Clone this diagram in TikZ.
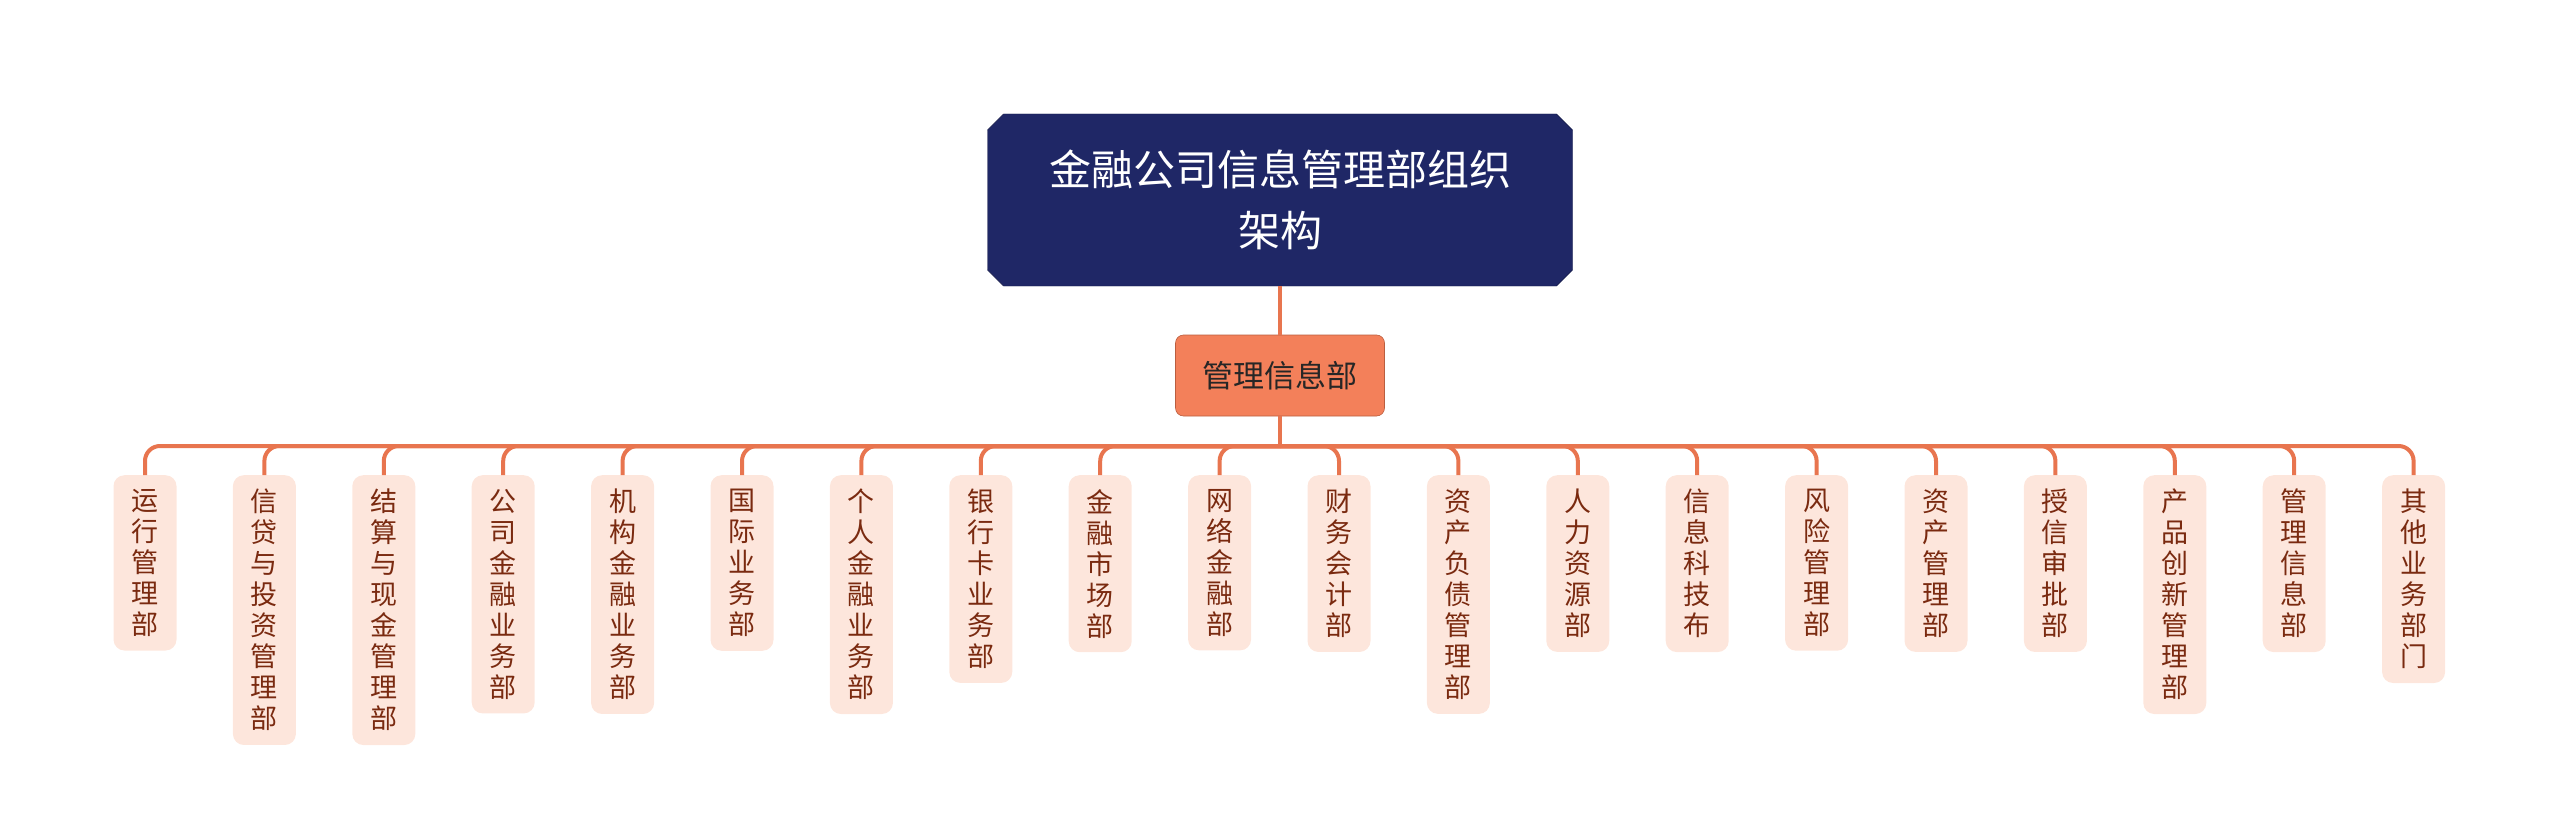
\documentclass[tikz,border=0pt]{standalone}
\usepackage{fontspec}
\setmainfont{Noto Sans CJK SC}
\usetikzlibrary{shapes.misc}
\definecolor{navy}{HTML}{1F2766}
\definecolor{orng}{HTML}{F3805A}
\definecolor{lnk}{HTML}{E8754F}
\definecolor{leaff}{HTML}{FDE6DC}
\definecolor{leaft}{HTML}{7A2A10}
\tikzset{
 rootbox/.style={chamfered rectangle, chamfered rectangle xsep=8pt, chamfered rectangle ysep=8pt, fill=navy, draw=navy!70!black, text=white, minimum width=585pt, minimum height=172pt, align=center, font=\fontsize{42}{61}\selectfont},
 subbox/.style={rectangle, rounded corners=8pt, fill=orng, draw=lnk!80!black, line width=0.6pt, text=black!85, minimum width=209pt, minimum height=81pt, font=\fontsize{31}{36}\selectfont},
 leafbox/.style={rectangle, rounded corners=11pt, fill=leaff, text=leaft, minimum width=63pt, inner xsep=0pt, inner ysep=14pt, anchor=north, align=center, font=\fontsize{27}{31}\selectfont},
 link/.style={draw=lnk, line width=4pt}
}
\begin{document}
\begin{tikzpicture}[x=1pt,y=-1pt]
\useasboundingbox (0,0) rectangle (2560,824);
\node[rootbox] (root) at (1280,200) {金融公司信息管理部组织\\架构};
\node[subbox] (sub) at (1280,375.5) {管理信息部};
\coordinate (bus) at (1280,446);
\foreach \i/\t in {0/运\\行\\管\\理\\部,1/信\\贷\\与\\投\\资\\管\\理\\部,2/结\\算\\与\\现\\金\\管\\理\\部,3/公\\司\\金\\融\\业\\务\\部,4/机\\构\\金\\融\\业\\务\\部,5/国\\际\\业\\务\\部,6/个\\人\\金\\融\\业\\务\\部,7/银\\行\\卡\\业\\务\\部,8/金\\融\\市\\场\\部,9/网\\络\\金\\融\\部,10/财\\务\\会\\计\\部,11/资\\产\\负\\债\\管\\理\\部,12/人\\力\\资\\源\\部,13/信\\息\\科\\技\\布,14/风\\险\\管\\理\\部,15/资\\产\\管\\理\\部,16/授\\信\\审\\批\\部,17/产\\品\\创\\新\\管\\理\\部,18/管\\理\\信\\息\\部,19/其\\他\\业\\务\\部\\门}{
  \node[leafbox] (l\i) at ({145+119.4*\i},475) {\t};
  \draw[link, rounded corners=15pt] (bus) -| (l\i.north);
}
\draw[link] (root.south) -- (sub.north);
\draw[link] (sub.south) -- (bus);
\end{tikzpicture}
\end{document}
